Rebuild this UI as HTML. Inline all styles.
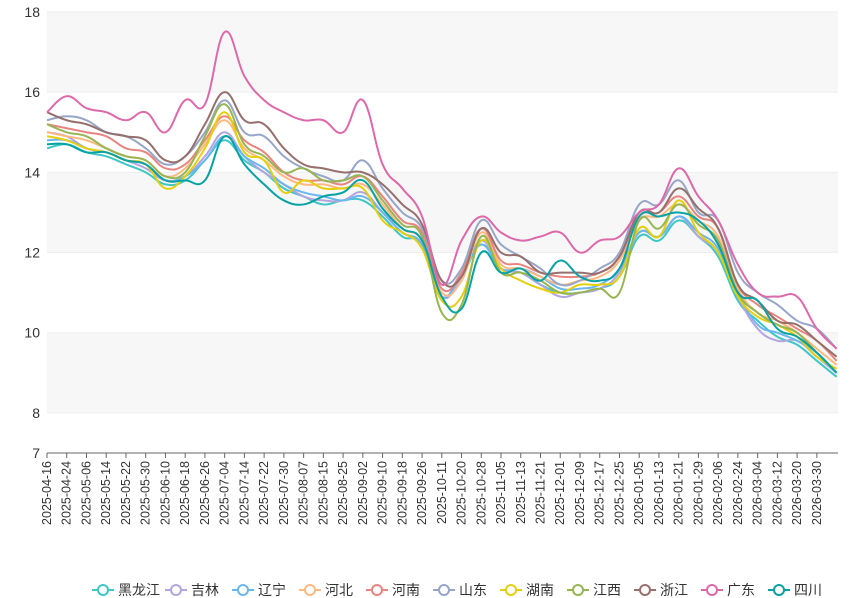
<!DOCTYPE html>
<html><head><meta charset="utf-8">
<style>
html,body{margin:0;padding:0;background:#fff;}
svg{display:block;font-family:"Liberation Sans","Noto Sans CJK SC",sans-serif;}
</style></head>
<body>
<svg id="chart" width="865" height="598"></svg>
<script>
const tickLabels=["2025-04-16","2025-04-24","2025-05-06","2025-05-14","2025-05-22","2025-05-30","2025-06-10","2025-06-18","2025-06-26","2025-07-04","2025-07-14","2025-07-22","2025-07-30","2025-08-07","2025-08-15","2025-08-25","2025-09-02","2025-09-10","2025-09-18","2025-09-26","2025-10-11","2025-10-20","2025-10-28","2025-11-05","2025-11-13","2025-11-21","2025-12-01","2025-12-09","2025-12-17","2025-12-25","2026-01-05","2026-01-13","2026-01-21","2026-01-29","2026-02-06","2026-02-24","2026-03-04","2026-03-12","2026-03-20","2026-03-30"];
const seriesNames=["黑龙江","吉林","辽宁","河北","河南","山东","湖南","江西","浙江","广东","四川"];
const seriesColors=["#3fc6c6","#b3a6e0","#6ab7f0","#ffb980","#e98580","#97a6c8","#e5cf0d","#97b552","#95706d","#dc69aa","#07a2a4"];
const heilongjiang=[14.6,14.7,14.5,14.4,14.2,14.0,13.7,13.8,14.3,14.8,14.3,14.0,13.6,13.4,13.2,13.3,13.3,12.9,12.4,12.2,10.9,11.4,12.2,11.6,11.5,11.2,11.0,11.0,11.1,11.4,12.4,12.3,12.8,12.4,11.9,10.8,10.3,9.9,9.7,9.3,8.9];
const jilin=[15.0,14.9,14.6,14.5,14.3,14.1,13.8,13.9,14.4,15.0,14.4,14.0,13.7,13.4,13.3,13.3,13.5,13.0,12.5,12.2,10.9,11.4,12.3,11.6,11.5,11.2,10.9,11.0,11.1,11.5,12.5,12.4,12.9,12.4,12.0,10.9,10.1,9.8,9.8,9.4,9.0];
const liaoning=[14.8,14.8,14.6,14.5,14.3,14.2,13.8,13.9,14.3,14.9,14.4,14.1,13.7,13.5,13.4,13.3,13.4,13.0,12.5,12.2,10.9,11.5,12.2,11.6,11.6,11.4,11.1,11.1,11.2,11.6,12.5,12.4,12.9,12.5,12.1,11.0,10.2,10.0,9.8,9.5,9.0];
const hebei=[15.0,14.9,14.8,14.6,14.4,14.3,13.9,14.1,14.7,15.3,14.6,14.3,13.9,13.7,13.7,13.6,13.7,13.2,12.6,12.3,11.0,11.3,12.5,11.7,11.6,11.4,11.2,11.3,11.4,11.8,12.8,12.9,13.2,12.8,12.4,11.1,10.5,10.3,10.0,9.6,9.2];
const henan=[15.2,15.1,15.0,14.9,14.6,14.5,14.1,14.2,14.8,15.4,14.8,14.5,14.0,13.8,13.8,13.7,13.9,13.4,12.8,12.5,11.1,11.5,12.6,11.8,11.7,11.5,11.4,11.4,11.5,11.9,12.9,13.0,13.4,12.9,12.6,11.2,10.7,10.4,10.1,9.8,9.3];
const shandong=[15.3,15.4,15.3,15.0,14.9,14.6,14.2,14.4,15.0,15.8,15.0,14.9,14.4,14.1,13.9,13.8,14.3,13.6,13.0,12.6,11.3,11.6,12.8,12.2,11.9,11.6,11.2,11.3,11.6,12.0,13.2,13.2,13.8,13.0,12.8,11.5,11.0,10.7,10.3,10.1,9.6];
const hunan=[14.9,14.8,14.6,14.5,14.3,14.2,13.6,13.9,14.6,15.5,14.5,14.3,13.5,13.8,13.6,13.6,13.6,12.8,12.5,12.1,10.8,10.9,12.3,11.6,11.3,11.1,11.0,11.2,11.2,11.4,12.6,12.4,13.3,12.5,12.0,10.9,10.4,10.2,9.9,9.4,9.1];
const jiangxi=[15.2,15.0,14.9,14.6,14.4,14.3,13.9,14.0,14.9,15.7,14.7,14.4,14.0,14.1,13.8,13.8,13.9,13.3,12.7,12.4,10.5,10.7,12.4,11.5,11.5,11.3,11.0,11.0,11.1,11.0,12.8,12.6,13.2,12.7,12.3,11.0,10.5,10.2,10.0,9.5,9.0];
const zhejiang=[15.5,15.3,15.2,15.0,14.9,14.8,14.3,14.4,15.2,16.0,15.3,15.2,14.6,14.2,14.1,14.0,14.0,13.7,13.2,12.7,11.3,11.4,12.6,12.0,11.9,11.5,11.5,11.5,11.5,11.9,13.0,13.0,13.6,13.1,12.6,11.2,10.8,10.3,10.2,9.8,9.4];
const guangdong=[15.5,15.9,15.6,15.5,15.3,15.5,15.0,15.8,15.7,17.5,16.4,15.8,15.5,15.3,15.3,15.0,15.8,14.2,13.6,12.9,11.2,12.3,12.9,12.5,12.3,12.4,12.5,12.0,12.3,12.4,13.0,13.2,14.1,13.4,12.8,11.7,11.0,10.9,10.9,10.1,9.6];
const sichuan=[14.7,14.7,14.5,14.5,14.3,14.2,13.8,13.8,13.8,14.9,14.2,13.7,13.3,13.2,13.4,13.5,13.8,13.1,12.6,12.3,10.9,10.6,12.0,11.5,11.6,11.3,11.8,11.4,11.3,11.6,12.9,12.9,13.0,12.8,12.2,11.0,10.8,10.1,9.9,9.5,9.0];
const allSeries=[heilongjiang,jilin,liaoning,hebei,henan,shandong,hunan,jiangxi,zhejiang,guangdong,sichuan];
const yTicks=[7,8,10,12,14,16,18];

const NS="http://www.w3.org/2000/svg";
const svg=document.getElementById('chart');
const X0=47,X1=836,YTOP=12,YBOT=453,YMIN=7,YMAX=18;
const step=19.74;
function xPos(i){return X0+i*step;}
function yPos(v){return YBOT-(v-YMIN)/(YMAX-YMIN)*(YBOT-YTOP);}
function mk(tag,attrs){const e=document.createElementNS(NS,tag);for(const k in attrs)e.setAttribute(k,attrs[k]);svg.appendChild(e);return e;}

// split areas
const bands=[[8,10,'#f7f7f7'],[10,12,'#ffffff'],[12,14,'#f7f7f7'],[14,16,'#ffffff'],[16,18,'#f7f7f7']];
bands.forEach(b=>{const r=mk('rect',{x:X0,y:yPos(b[1]),width:X1-X0+2,height:yPos(b[0])-yPos(b[1]),fill:b[2]});

});
yTicks.forEach(t=>{
 if(t>7){const l=mk('line',{x1:X0,x2:X1+2,y1:yPos(t),y2:yPos(t),stroke:'#eeeeee','stroke-width':1});
 
 }
 const tx=mk('text',{x:40,y:yPos(t)+5,'text-anchor':'end','font-size':14,fill:'#333'});
 tx.textContent=t;
 
 
});
const ax=mk('line',{x1:X0,x2:X1+2,y1:YBOT,y2:YBOT,stroke:'#666','stroke-width':1});


tickLabels.forEach((lab,i)=>{
 const x=xPos(i);
 const tk=mk('line',{x1:x,x2:x,y1:YBOT,y2:YBOT+5,stroke:'#666'});
 
 
 const t=mk('text',{x:0,y:0,'text-anchor':'end','font-size':12.5,fill:'#333',transform:`translate(${x+4},${YBOT+8}) rotate(-90)`});
 t.textContent=lab;
 
 
});
function smoothPath(vals){
 const p=vals.map((v,i)=>[xPos(i),yPos(v)]);
 let d=`M${p[0][0]},${p[0][1]}`;
 for(let i=0;i<p.length-1;i++){
  const p0=p[Math.max(0,i-1)],p1=p[i],p2=p[i+1],p3=p[Math.min(p.length-1,i+2)];
  const s=0.2;
  const c1=[p1[0]+(p2[0]-p0[0])*s,p1[1]+(p2[1]-p0[1])*s];
  const c2=[p2[0]-(p3[0]-p1[0])*s,p2[1]-(p3[1]-p1[1])*s];
  d+=` C${c1[0]},${c1[1]} ${c2[0]},${c2[1]} ${p2[0]},${p2[1]}`;
 }
 return d;
}
allSeries.forEach((vals,si)=>{
 const path=mk('path',{d:smoothPath(vals),fill:'none',stroke:seriesColors[si],'stroke-width':2});
 
 
});
// legend
const legendX=[92,165,232,299,366,433,500,567,634,701,768];
seriesNames.forEach((n,i)=>{
 const x=legendX[i];
 const ln=mk('line',{x1:x,x2:x+22,y1:590,y2:590,stroke:seriesColors[i],'stroke-width':2});
 
 
 const c=mk('circle',{cx:x+11,cy:590,r:5,fill:'#fff',stroke:seriesColors[i],'stroke-width':2});
 
 
 const t=mk('text',{x:x+26,y:595,'font-size':14,fill:'#333'});
 t.textContent=n;
 
 
});
</script>
</body></html>
